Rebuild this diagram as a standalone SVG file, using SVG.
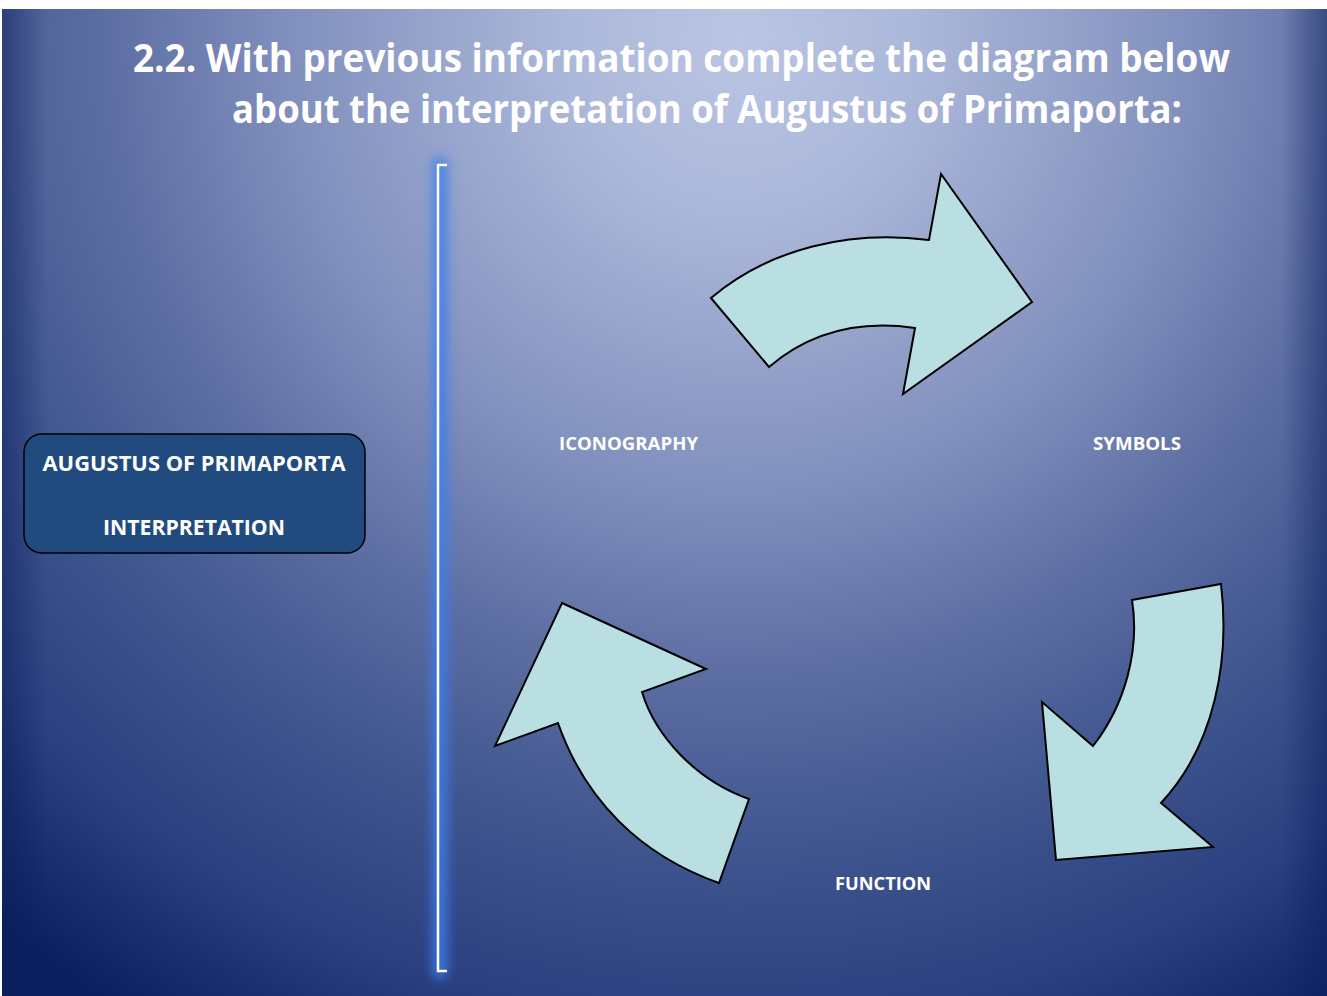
<svg xmlns="http://www.w3.org/2000/svg" width="1327" height="996" viewBox="0 0 1327 996">
  <style>
    .title { font-family: "Open Sans", "Liberation Sans", sans-serif; font-weight: 700; font-size: 40px; fill: #ffffff; }
    .boxtext { font-family: "Open Sans", "Liberation Sans", sans-serif; font-weight: 700; font-size: 21px; fill: #ffffff; text-anchor: middle; }
    .label { font-family: "Open Sans", "Liberation Sans", sans-serif; font-weight: 700; font-size: 18px; fill: #ffffff; }
    .cycle { fill: #b9dfe2; stroke: #000000; stroke-width: 2; stroke-linejoin: miter; }
  </style>
  <defs>
    <radialGradient id="bg" gradientUnits="userSpaceOnUse" cx="740" cy="40" r="1150">
      <stop offset="0" stop-color="#bac5e3"/>
      <stop offset="0.15" stop-color="#acb8da"/>
      <stop offset="0.4" stop-color="#7f8ebc"/>
      <stop offset="0.55" stop-color="#5d6ea3"/>
      <stop offset="0.7" stop-color="#40568f"/>
      <stop offset="0.85" stop-color="#2b4180"/>
      <stop offset="1" stop-color="#0c1f5e"/>
    </radialGradient>
    <linearGradient id="edgeL" x1="0" y1="0" x2="1" y2="0">
      <stop offset="0" stop-color="#0c1f5e" stop-opacity="0.5"/>
      <stop offset="1" stop-color="#0c1f5e" stop-opacity="0"/>
    </linearGradient>
    <linearGradient id="edgeR" x1="1" y1="0" x2="0" y2="0">
      <stop offset="0" stop-color="#0c1f5e" stop-opacity="0.5"/>
      <stop offset="1" stop-color="#0c1f5e" stop-opacity="0"/>
    </linearGradient>
    <filter id="glow" filterUnits="userSpaceOnUse" x="390" y="120" width="100" height="890">
      <feGaussianBlur stdDeviation="6"/>
    </filter>
  </defs>

  <!-- page -->
  <rect x="0" y="0" width="1327" height="996" fill="#ffffff"/>
  <rect x="2" y="9" width="1325" height="987" fill="url(#bg)"/>
  <rect x="2" y="9" width="45" height="987" fill="url(#edgeL)"/>
  <rect x="1282" y="9" width="45" height="987" fill="url(#edgeR)"/>

  <!-- heading -->
  <g id="title">
    <text class="title" x="133" y="72" textLength="1097" lengthAdjust="spacingAndGlyphs">2.2. With previous information complete the diagram below</text>
    <text class="title" x="232" y="123" textLength="950" lengthAdjust="spacingAndGlyphs">about the interpretation of Augustus of Primaporta:</text>
  </g>

  <!-- main topic box -->
  <g id="topic">
    <rect x="24" y="434" width="341" height="119" rx="18" ry="18" fill="#214b7f" stroke="#000000" stroke-width="1.5"/>
    <text class="boxtext" x="194" y="471" textLength="303" lengthAdjust="spacingAndGlyphs">AUGUSTUS OF PRIMAPORTA</text>
    <text class="boxtext" x="194" y="535" textLength="182" lengthAdjust="spacingAndGlyphs">INTERPRETATION</text>
  </g>

  <!-- bracket divider with soft blue glow -->
  <g id="bracket">
    <path d="M447,165 L440,165 L440,971 L447,971" fill="none" stroke="#3a80ee" stroke-width="14" stroke-opacity="0.9" filter="url(#glow)"/>
    <path d="M447,165 L438,165 L438,971 L447,971" fill="none" stroke="#ffffff" stroke-width="2.5"/>
  </g>

  <!-- cycle arrows -->
  <g id="connectors">
    <path class="cycle" d="M711,298 C770,248 850,230 929,240 L941,174 L1032,302 L903,394 L915,328 C860,320 810,332 769,367 Z"/>
    <path class="cycle" d="M1132,600 L1221,584 C1230,660 1215,745 1161,803 L1213,847 L1056,860 L1042,702 L1093,746 C1125,705 1140,650 1132,600 Z"/>
    <path class="cycle" d="M562,603 L706,669 L642,692 C655,735 695,780 749,799 L719,883 C640,855 585,800 558,723 L495,746 Z"/>
  </g>

  <!-- cycle labels -->
  <g id="iconography">
    <text class="label" x="559" y="450" textLength="139" lengthAdjust="spacingAndGlyphs">ICONOGRAPHY</text>
  </g>
  <g id="symbols">
    <text class="label" x="1093" y="450" textLength="88" lengthAdjust="spacingAndGlyphs">SYMBOLS</text>
  </g>
  <g id="function">
    <text class="label" x="835" y="890" textLength="96" lengthAdjust="spacingAndGlyphs">FUNCTION</text>
  </g>
</svg>
